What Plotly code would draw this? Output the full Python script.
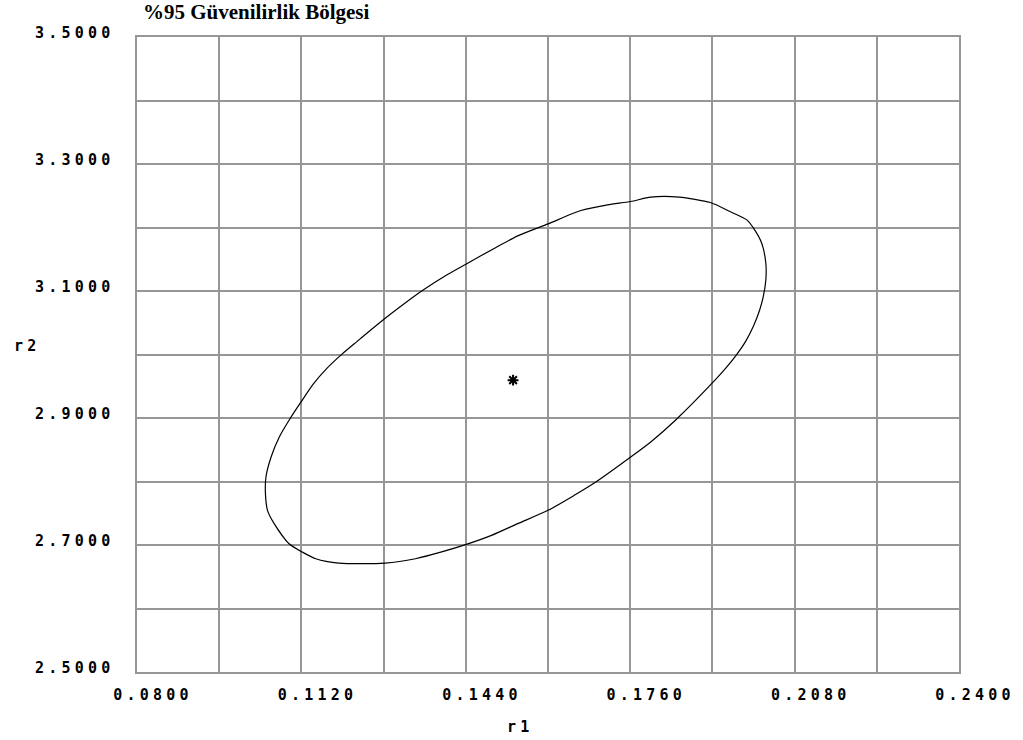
import plotly.graph_objects as go

# 95% confidence region contour for (r1, r2), traced clockwise from the leftmost point
r1_contour = [
    0.1050, 0.1051, 0.1061, 0.1077, 0.1096, 0.1119, 0.1143, 0.1170, 0.1199, 0.1228,
    0.1280, 0.1309, 0.1354, 0.1406, 0.1441, 0.1497, 0.1541, 0.1600, 0.1664, 0.1716,
    0.1761, 0.1800, 0.1855, 0.1916, 0.1954, 0.1987, 0.2000, 0.2016, 0.2024, 0.2024,
    0.2019, 0.2012, 0.2000, 0.1985, 0.1965, 0.1946, 0.1925, 0.1848, 0.1800, 0.1761,
    0.1693, 0.1651, 0.1600, 0.1541, 0.1490, 0.1441, 0.1393, 0.1342, 0.1283, 0.1193,
    0.1148, 0.1122, 0.1096, 0.1067, 0.1054, 0.1050,
]
r2_contour = [
    2.7809, 2.8071, 2.8386, 2.8702, 2.8965, 2.9249, 2.9533, 2.9785, 3.0006, 3.0203,
    3.0550, 3.0732, 3.1000, 3.1268, 3.1426, 3.1678, 3.1868, 3.2057, 3.2267, 3.2356,
    3.2409, 3.2478, 3.2478, 3.2393, 3.2251, 3.2120, 3.1989, 3.1752, 3.1437, 3.1174,
    3.0910, 3.0700, 3.0448, 3.0211, 2.9975, 2.9785, 2.9596, 2.8965, 2.8623, 2.8386,
    2.7992, 2.7782, 2.7546, 2.7336, 2.7151, 2.7009, 2.6891, 2.6784, 2.6715, 2.6715,
    2.6784, 2.6888, 2.7020, 2.7336, 2.7546, 2.7809,
]

# Point estimate
r1_est = [0.1532]
r2_est = [2.9596]

# Axis grid positions and labels
x_ticks = [0.080, 0.096, 0.112, 0.128, 0.144, 0.160, 0.176, 0.192, 0.208, 0.224, 0.240]
x_labels = ["0.0800", "", "0.1120", "", "0.1440", "", "0.1760", "", "0.2080", "", "0.2400"]
y_ticks = [2.5, 2.6, 2.7, 2.8, 2.9, 3.0, 3.1, 3.2, 3.3, 3.4, 3.5]
y_labels = ["2.5000", "", "2.7000", "", "2.9000", "", "3.1000", "", "3.3000", "", "3.5000"]


def spaced(label):
    """Widen a label by putting a small fixed gap between its characters."""
    gap = '<span style="font-size:7px"> </span>'
    return gap.join(label) if label else ""


grid_color = "#969696"
tick_font = dict(family="DejaVu Sans Mono", size=15, color="black", weight="bold")

fig = go.Figure()
fig.add_trace(go.Scatter(
    x=r1_contour, y=r2_contour, mode="lines",
    line=dict(color="black", width=1.2, shape="spline", smoothing=0.7),
    showlegend=False, hoverinfo="skip",
))
fig.add_trace(go.Scatter(
    x=r1_est, y=r2_est, mode="markers",
    marker=dict(symbol="asterisk-open", size=9, color="black",
                line=dict(color="black", width=2)),
    showlegend=False,
))

fig.update_layout(
    width=1023, height=740,
    margin=dict(l=137, r=60, t=37, b=68),
    paper_bgcolor="white", plot_bgcolor="white",
    title=dict(
        text="<b>%95 Güvenilirlik Bölgesi</b>",
        font=dict(family="Liberation Serif", size=21, color="black"),
        x=143 / 1023, xanchor="left", xref="container",
        y=1 - 12 / 740, yanchor="middle", yref="container",
    ),
    xaxis=dict(
        range=[0.08, 0.24], tickvals=x_ticks, ticktext=[spaced(t) for t in x_labels],
        showgrid=True, gridcolor=grid_color, gridwidth=1.5,
        showline=True, linecolor=grid_color, linewidth=1.5, mirror=True,
        zeroline=False, ticks="", ticklabelstandoff=8, ticklabelshift=14,
        tickfont=tick_font,
    ),
    yaxis=dict(
        range=[2.5, 3.5], tickvals=y_ticks, ticktext=[spaced(t) for t in y_labels],
        showgrid=True, gridcolor=grid_color, gridwidth=1.5,
        showline=True, linecolor=grid_color, linewidth=1.5, mirror=True,
        zeroline=False, ticks="", ticklabelstandoff=22, ticklabelshift=-4,
        tickfont=tick_font,
    ),
    annotations=[
        dict(text=spaced("r1"), x=(520 - 137) / 826, xref="paper",
             y=-(727 - 672) / 635, yref="paper", xanchor="center", yanchor="middle",
             showarrow=False, font=tick_font),
        dict(text=spaced("r2"), x=(24 - 137) / 826, xref="paper",
             y=(672 - 346) / 635, yref="paper", xanchor="center", yanchor="middle",
             showarrow=False, font=tick_font),
    ],
)

fig.write_html("out.html")
